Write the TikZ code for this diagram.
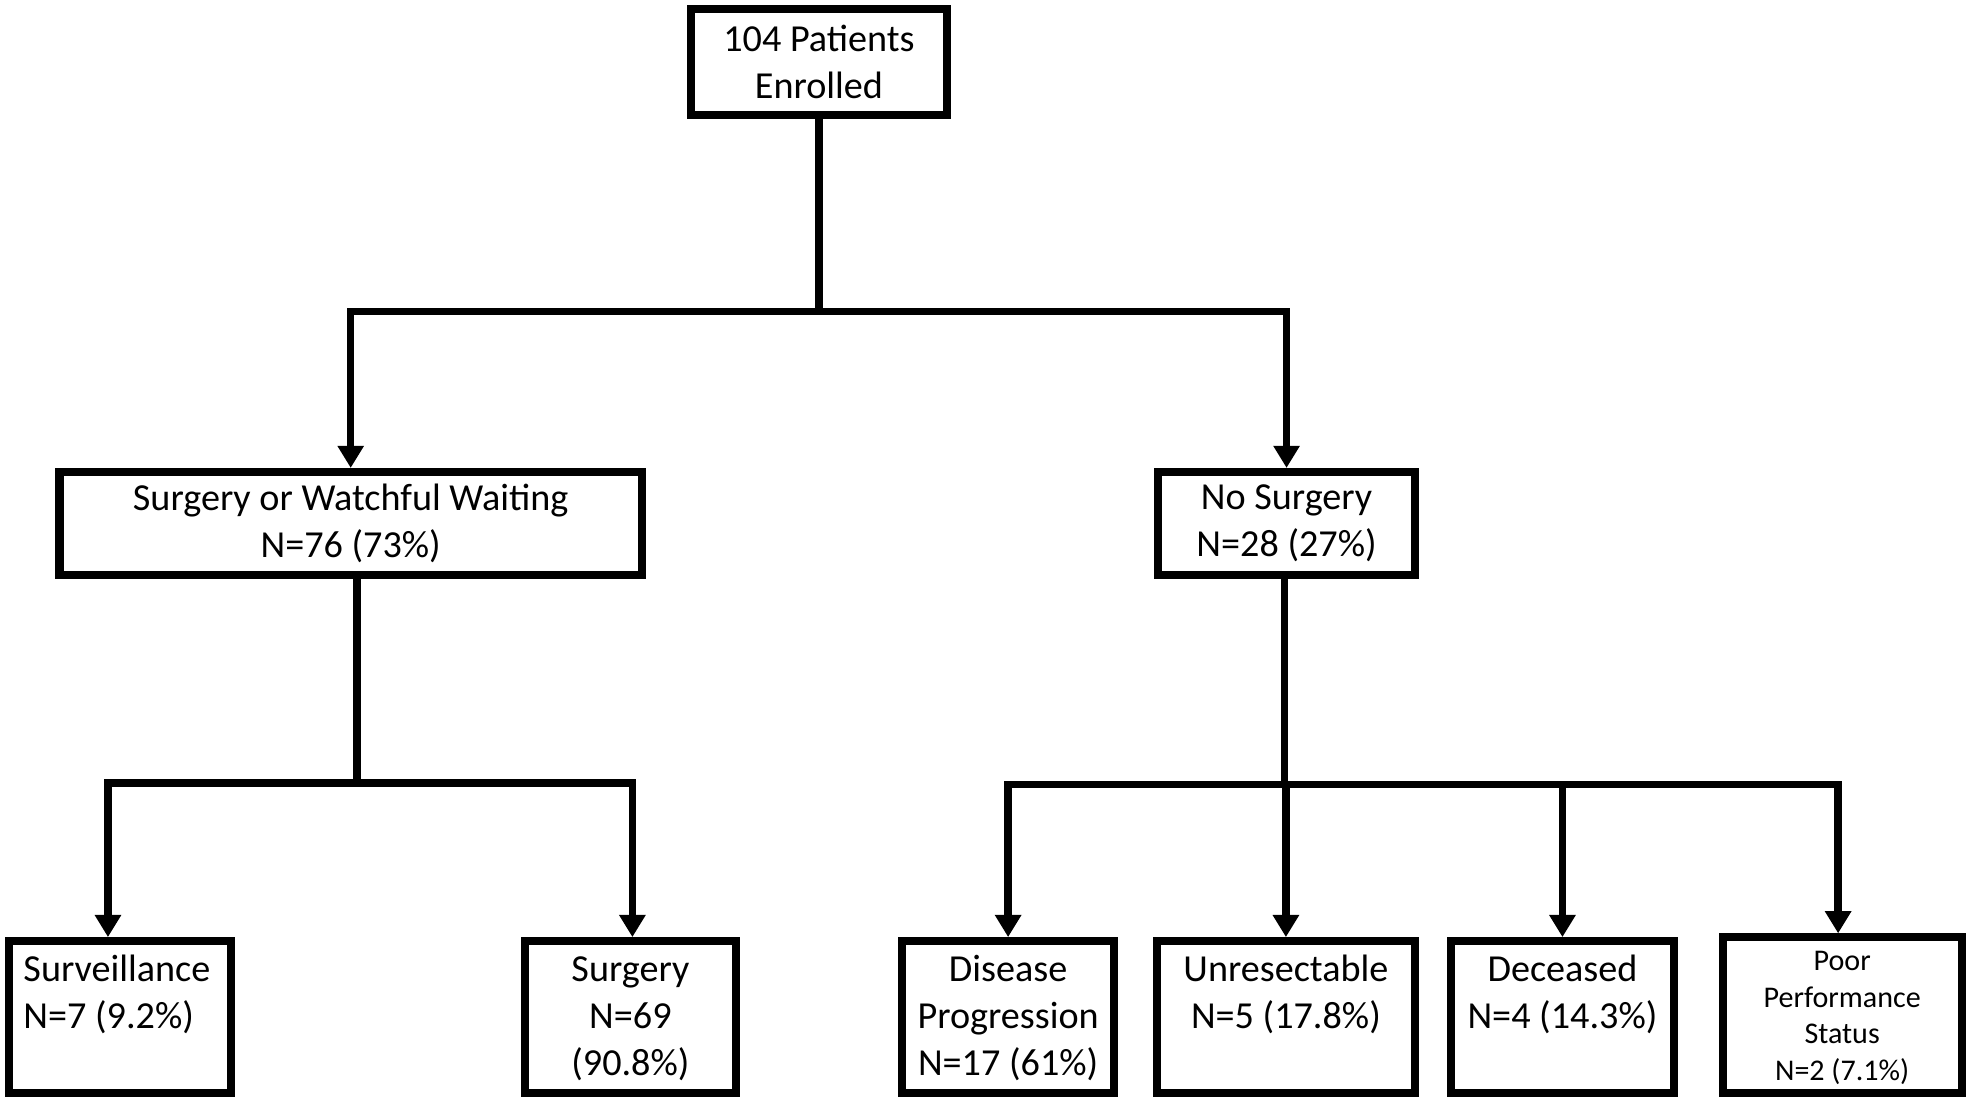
\documentclass[tikz,border=0pt]{standalone}
\usepackage{fontspec}
\setmainfont{Carlito}
\usetikzlibrary{arrows.meta}

\tikzset{
  box/.style={draw, line width=2.3pt, align=center, inner sep=0pt,
    font=\fontsize{10.8pt}{13.2pt}\selectfont},
  leafbox/.style={box, anchor=north, inner sep=0.08cm},
  link/.style={line width=2.1pt},
  arr/.style={link, -{Triangle[length=0.22cm, width=0.25cm]}}
}
\newcommand{\leaf}[2]{\parbox[t][1.35cm][t]{#1}{\centering\strut #2}}

\begin{document}
\begin{tikzpicture}[x=0.0125cm, y=-0.0125cm]
    \useasboundingbox (0,0) rectangle (1568,875);

    % top level
    \node[box, minimum width=2.55cm, minimum height=1.05cm] (top) at (651.5,49.5)
        {104 Patients\\Enrolled};

    % second level
    \node[box, minimum width=5.79cm, minimum height=1.025cm] (sww) at (279,416.5)
        {Surgery or Watchful Waiting\\N=76 (73\%)};
    \node[box, minimum width=2.55cm, minimum height=1.025cm] (ns) at (1023.5,416.5)
        {No Surgery\\N=28 (27\%)};

    % third level
    \node[leafbox] (surv) at (95.5,745.5)
        {\parbox[t][1.35cm][t]{2.04cm}{\raggedright\leftskip=0.06cm\strut Surveillance\\N=7 (9.2\%)}};
    \node[leafbox] (surg) at (501.5,745.5) {\leaf{1.94cm}{Surgery\\N=69\\(90.8\%)}};
    \node[leafbox] (dp) at (802,745.5) {\leaf{1.95cm}{Disease\\Progression\\N=17 (61\%)}};
    \node[leafbox] (unres) at (1023,745.5) {\leaf{2.40cm}{Unresectable\\N=5 (17.8\%)}};
    \node[leafbox] (dec) at (1243,745.5) {\leaf{2.05cm}{Deceased\\N=4 (14.3\%)}};
    \node[leafbox, font=\fontsize{8.5pt}{10.3pt}\selectfont] (poor) at (1465.5,742.5)
        {\parbox[t][1.39cm][t]{2.215cm}{\centering\strut Poor\\Performance\\Status\\N=2 (7.1\%)}};

    % connectors
    \coordinate (j1) at (651.5,248);
    \coordinate (j2) at (284,623);
    \coordinate (j3) at (1022,624);

    \draw[link] (top) -- (j1);
    \draw[arr] (j1) -| (sww.north);
    \draw[arr] (j1) -| (ns.north);

    \draw[link] (sww.south -| j2) -- (j2);
    \draw[arr] (j2) -| ([xshift=-0.12cm]surv.north);
    \draw[arr] (j2) -| ([xshift=0.02cm]surg.north);

    \draw[link] (ns.south -| j3) -- (j3);
    \foreach \n in {dp,unres,dec}
        \draw[arr] (j3) -| (\n.north);
    \draw[arr] (j3) -| ([xshift=-0.04cm]poor.north);
\end{tikzpicture}
\end{document}
